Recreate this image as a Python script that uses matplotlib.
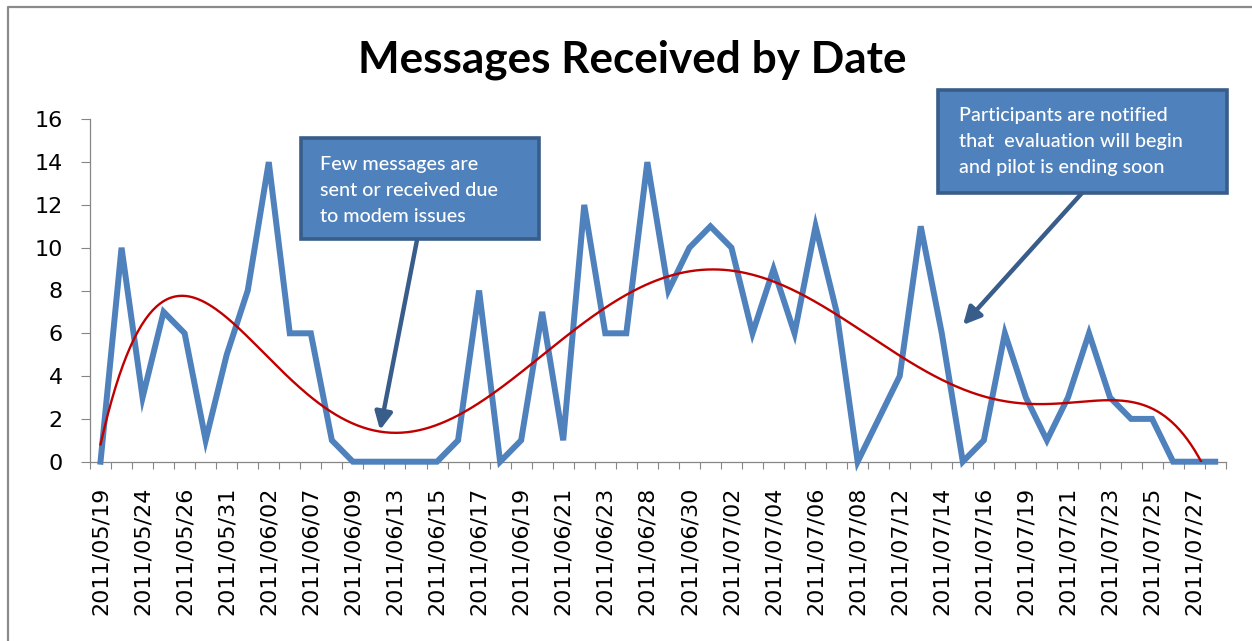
import numpy as np
import matplotlib
matplotlib.use("Agg")
import matplotlib.pyplot as plt
from matplotlib.patches import Rectangle
from matplotlib.lines import Line2D

# tick labels shown on the axis (every second date)
date_labels = ["2011/05/19", "2011/05/24", "2011/05/26", "2011/05/31", "2011/06/02",
               "2011/06/07", "2011/06/09", "2011/06/13", "2011/06/15", "2011/06/17",
               "2011/06/19", "2011/06/21", "2011/06/23", "2011/06/28", "2011/06/30",
               "2011/07/02", "2011/07/04", "2011/07/06", "2011/07/08", "2011/07/12",
               "2011/07/14", "2011/07/16", "2011/07/19", "2011/07/21", "2011/07/23",
               "2011/07/25", "2011/07/27"]

# messages per date (54 dates)
messages = [0, 10, 3, 7, 6, 1, 5, 8, 14, 6,
            6, 1, 0, 0, 0, 0, 0, 1, 8, 0,
            1, 7, 1, 12, 6, 6, 14, 8, 10, 11,
            10, 6, 9, 6, 11, 7, 0, 2, 4, 11,
            6, 0, 1, 6, 3, 1, 3, 6, 3, 2,
            2, 0, 0, 0]

note1 = ["Few messages are", "sent or received due", "to modem issues"]
note2 = ["Participants are notified", "that  evaluation will begin", "and pilot is ending soon"]

W, H = 1252, 641
BLUE = "#4F81BD"
DARK = "#385D8A"
GREY = "#868686"


def fx(px):
    return px / W


def fy(py):
    return 1 - py / H


fig = plt.figure(figsize=(W / 100, H / 100), dpi=100)
ax = fig.add_axes([fx(90), fy(461.7), fx(1225.7) - fx(90), fy(119.3) - fy(461.7)])

n = len(messages)
x = np.arange(n)
ax.plot(x, messages, color=BLUE, lw=4.3, solid_joinstyle="miter", clip_on=False, zorder=3)

# 6th order polynomial trendline like Excel
coef = np.polyfit(x + 1, messages, 6)
xs = np.linspace(0, n - 1, 600)
ax.plot(xs, np.polyval(coef, xs + 1), color="#C00000", lw=1.7, zorder=4)

ax.set_xlim(-0.5, n - 0.5)
ax.set_ylim(0, 16)
ax.set_yticks(range(0, 17, 2))
ax.set_xticks(np.arange(0, n, 2))
ax.set_xticklabels(date_labels, rotation=90, family="DejaVu Sans", fontsize=16)
ax.set_xticks(np.arange(-0.5, n, 1), minor=True)
ax.tick_params(axis="x", which="major", length=0, pad=18)
ax.tick_params(axis="x", which="minor", length=5, width=0.8, color=GREY)
ax.tick_params(axis="y", length=6.5, width=0.8, color=GREY, pad=13, labelsize=16)
for lab in ax.get_yticklabels():
    lab.set_family("DejaVu Sans")
for s in ["top", "right"]:
    ax.spines[s].set_visible(False)
for s in ["left", "bottom"]:
    ax.spines[s].set_color(GREY)
    ax.spines[s].set_linewidth(0.9)

# chart border (cut at right and bottom)
fig.add_artist(Line2D([fx(8), fx(8), fx(1260)], [fy(650), fy(7), fy(7)],
                      transform=fig.transFigure, color="#8A8A8A", lw=1.6))

fig.text(fx(632), fy(73), "Messages Received by Date", ha="center", va="baseline",
         fontsize=31.8, fontweight="bold", family="Lato")


def callout(left, top, right, bottom, lines, text_x, base_y, start, tip):
    fig.add_artist(Rectangle((fx(left), fy(bottom)), fx(right) - fx(left), fy(top) - fy(bottom),
                             transform=fig.transFigure, fc=BLUE, ec=DARK, lw=2.6, zorder=5))
    for i, line in enumerate(lines):
        t = fig.text(fx(text_x), fy(base_y + 26 * i), line, color="white", ha="left",
                     va="baseline", fontsize=14.2, fontweight="medium", family="Lato")
        t.set_zorder(6)
    ax.annotate("", xy=tip, xycoords="data", xytext=(start[0], H - start[1]),
                textcoords="figure pixels", annotation_clip=False,
                arrowprops=dict(arrowstyle="-|>", color=DARK, lw=3.2, mutation_scale=26,
                                shrinkA=0, shrinkB=0))


callout(301, 137.7, 539, 239.3, note1, 320, 170, (417, 240), (13.29, 1.48))
callout(937.7, 90, 1226.7, 193.3, note2, 959, 120.7, (1082, 193), (41.01, 6.39))

fig.savefig("out.png", dpi=100)
